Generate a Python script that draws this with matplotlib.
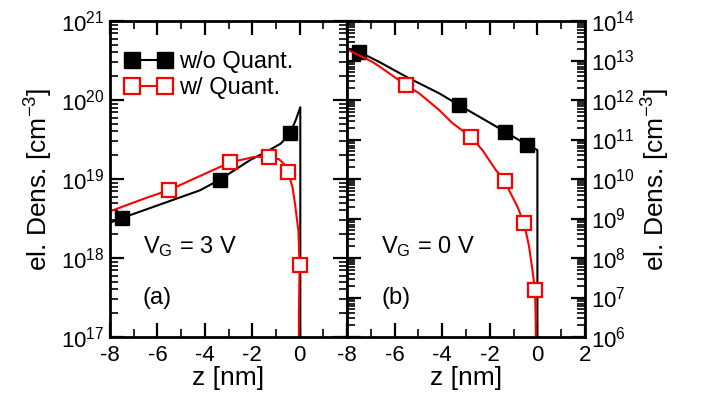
import matplotlib
matplotlib.use("Agg")
import matplotlib.pyplot as plt
import numpy as np
from matplotlib.ticker import LogLocator, MultipleLocator, FixedLocator, FixedFormatter, NullFormatter
from matplotlib.lines import Line2D

plt.rcParams['font.family'] = ['Liberation Sans', 'DejaVu Sans']
plt.rcParams['mathtext.fontset'] = 'custom'
plt.rcParams['mathtext.rm'] = 'Liberation Sans'
plt.rcParams['mathtext.it'] = 'Liberation Sans'
plt.rcParams['mathtext.bf'] = 'Liberation Sans:bold'
plt.rcParams['axes.unicode_minus'] = False

# ---------------- data ----------------
# panel (a): V_G = 3 V
a_black_z = [-8, -7.5, -4.2, -3.37, -2.07, -1.36, -0.8, -0.4, -0.16, 0.03, 0.03]
a_black_n = [2.8e18, 3.2e18, 7.2e18, 9.8e18, 1.75e19, 2.25e19, 2.8e19, 3.8e19, 5.6e19, 8.1e19, 1e16]
a_black_mz = [-7.5, -3.37, -0.4]
a_black_mn = [3.2e18, 9.8e18, 3.8e19]

a_red_z = [-8, -6.45, -5.53, -2.94, -1.93, -1.29, -0.87, -0.66, -0.49, -0.30, -0.20, -0.05, 0.0, -0.03, -0.03]
a_red_n = [3.9e18, 5.8e18, 7.2e18, 1.62e19, 1.9e19, 1.9e19, 1.78e19, 1.55e19, 1.23e19, 7.9e18, 5.0e18,
           2.2e18, 8.1e17, 2e17, 1e16]
a_red_mz = [-5.53, -2.94, -1.29, -0.49, 0.0]
a_red_mn = [7.2e18, 1.62e19, 1.9e19, 1.23e19, 8.1e17]

# panel (b): V_G = 0 V
b_black_z = [-8, -7.5, -6.66, -6.03, -5.39, -4.13, -3.29, -2.45, -1.36, -0.42, 0.0, 0.0]
b_black_n = [1.95e13, 1.66e13, 9.3e12, 5.75e12, 3.55e12, 1.48e12, 7.4e11, 3.8e11, 1.58e11, 7.2e10, 5.4e10, 1e5]
b_black_mz = [-7.5, -3.29, -1.36, -0.42]
b_black_mn = [1.66e13, 7.4e11, 1.58e11, 7.2e10]

b_red_z = [-8, -6.94, -6.52, -5.53, -4.97, -4.13, -3.57, -2.80, -2.31, -1.75, -1.36, -1.19, -0.84, -0.56,
           -0.35, -0.21, -0.10, -0.07, -0.06]
b_red_n = [1.9e13, 9.3e12, 6.3e12, 2.4e12, 1.48e12, 5.6e11, 2.6e11, 1.17e11, 5.4e10, 1.7e10, 8.9e9, 5.2e9,
           2.0e9, 7.6e8, 1.95e8, 5.0e7, 1.55e7, 2.5e6, 1e5]
b_red_mz = [-5.53, -2.80, -1.36, -0.56, -0.10]
b_red_mn = [2.4e12, 1.17e11, 8.9e9, 7.6e8, 1.55e7]

x_ticks = [-8, -6, -4, -2, 0, 2]
a_xticklabels = ['-8', '-6', '-4', '-2', '0', '']
b_xticklabels = ['-8', '-6', '-4', '-2', '0', '2']
legend_labels = ['w/o Quant.', 'w/ Quant.']
xlabel = 'z [nm]'
ylabel = 'el. Dens. [cm$^{-3}$]'

# ---------------- style ----------------
TICK_FS = 16
LABEL_FS = 19
TEXT_FS = 17
MS = 10
black_kw = dict(color='black', lw=1.5)
red_kw = dict(color='red', lw=1.5)
bm_kw = dict(ls='none', marker='s', ms=MS, mfc='black', mec='black', mew=1.0)
rm_kw = dict(ls='none', marker='s', ms=MS, mfc='white', mec='red', mew=1.6)

fig = plt.figure(figsize=(7.02, 3.97), dpi=100)
axL = fig.add_axes([110/702, 1-337/397, 237/702, 316/397])
axR = fig.add_axes([347/702, 1-337/397, 238/702, 316/397])


def style(ax, ylim, labels):
    ax.set_yscale('log')
    ax.set_xlim(-8, 2)
    ax.set_ylim(*ylim)
    ax.xaxis.set_major_locator(FixedLocator(x_ticks))
    ax.xaxis.set_major_formatter(FixedFormatter(labels))
    ax.xaxis.set_minor_locator(MultipleLocator(1))
    ax.yaxis.set_major_locator(LogLocator(base=10, numticks=100))
    ax.yaxis.set_minor_locator(LogLocator(base=10, subs=np.arange(2, 10), numticks=100))
    ax.yaxis.set_minor_formatter(NullFormatter())
    ax.tick_params(which='both', direction='in', top=True, bottom=True, left=True, right=True,
                   labelsize=TICK_FS)
    ax.tick_params(axis='y', pad=4)
    ax.tick_params(axis='x', pad=6)
    ax.tick_params(which='major', length=10, width=1.6)
    ax.tick_params(which='minor', length=6, width=1.2)
    for s in ax.spines.values():
        s.set_linewidth(2)
    ax.set_xlabel(xlabel, fontsize=LABEL_FS, labelpad=0)
    ax.xaxis.offsetText.set_visible(False)
    ax.yaxis.offsetText.set_visible(False)


style(axL, (1e17, 1e21), a_xticklabels)
style(axR, (1e6, 1e14), b_xticklabels)
axR.tick_params(labelleft=False, labelright=True)
axR.yaxis.set_label_position('right')
axL.set_ylabel(ylabel, fontsize=LABEL_FS, labelpad=4)
axR.set_ylabel(ylabel, fontsize=LABEL_FS, labelpad=4, rotation=90)

# panel (a)
axL.plot(a_black_z, a_black_n, **black_kw)
axL.plot(a_black_mz, a_black_mn, **bm_kw)
axL.plot(a_red_z, a_red_n, **red_kw)
axL.plot(a_red_mz, a_red_mn, **rm_kw)

# panel (b)
axR.plot(b_black_z, b_black_n, **black_kw)
axR.plot(b_black_mz, b_black_mn, **bm_kw)
axR.plot(b_red_z, b_red_n, **red_kw)
axR.plot(b_red_mz, b_red_mn, **rm_kw)

axL.text(0.139, 0.266, 'V$_\\mathrm{G}$ = 3 V', transform=axL.transAxes, fontsize=TEXT_FS, va='baseline')
axL.text(0.139, 0.104, '(a)', transform=axL.transAxes, fontsize=TEXT_FS, va='baseline')
axR.text(0.143, 0.266, 'V$_\\mathrm{G}$ = 0 V', transform=axR.transAxes, fontsize=TEXT_FS, va='baseline')
axR.text(0.143, 0.104, '(b)', transform=axR.transAxes, fontsize=TEXT_FS, va='baseline')

handles = [Line2D([], [], marker='s', ms=MS * 1.15, mfc='black', mec='black', **black_kw),
           Line2D([], [], marker='s', ms=MS * 1.15, mfc='white', mec='red', mew=1.6, **red_kw)]
axL.legend(handles, legend_labels, loc='upper left', bbox_to_anchor=(0.063, 0.905), frameon=False,
           numpoints=2, fontsize=TEXT_FS, handlelength=2.0, handletextpad=0.3, labelspacing=0.18,
           borderpad=0, borderaxespad=0)

fig.savefig('out.png', dpi=100)
